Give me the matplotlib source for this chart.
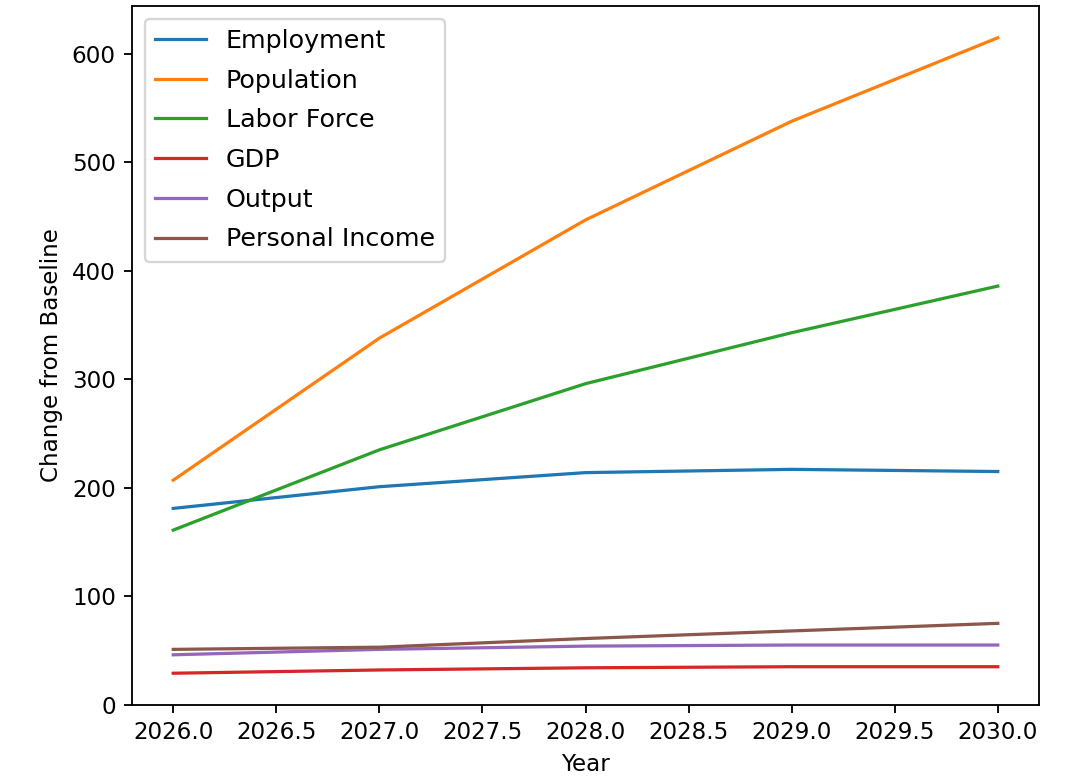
import matplotlib
matplotlib.use("Agg")
import matplotlib.pyplot as plt

years = [2026, 2027, 2028, 2029, 2030]
employment = [181, 201, 214, 217, 215]
population = [207, 338, 447, 538, 615]
labor_force = [161, 235, 296, 343, 386]
gdp = [29, 32, 34, 35, 35]
output = [46, 51, 54, 55, 55]
personal_income = [51, 53, 61, 68, 75]

series = [
    ("Employment", employment),
    ("Population", population),
    ("Labor Force", labor_force),
    ("GDP", gdp),
    ("Output", output),
    ("Personal Income", personal_income),
]

dpi = 166
fig = plt.figure(figsize=(1066 / dpi, 784 / dpi), dpi=dpi)
ax = fig.add_axes([132 / 1066, 1 - 705 / 784, (1039 - 132) / 1066, (705 - 6) / 784])
for name, vals in series:
    ax.plot(years, vals, label=name, linewidth=1.4)
ax.set_xlabel("Year")
ax.set_ylabel("Change from Baseline")
ax.legend(loc="upper left", fontsize=11.0, labelspacing=0.62)
fig.savefig("out.png", dpi=dpi)
